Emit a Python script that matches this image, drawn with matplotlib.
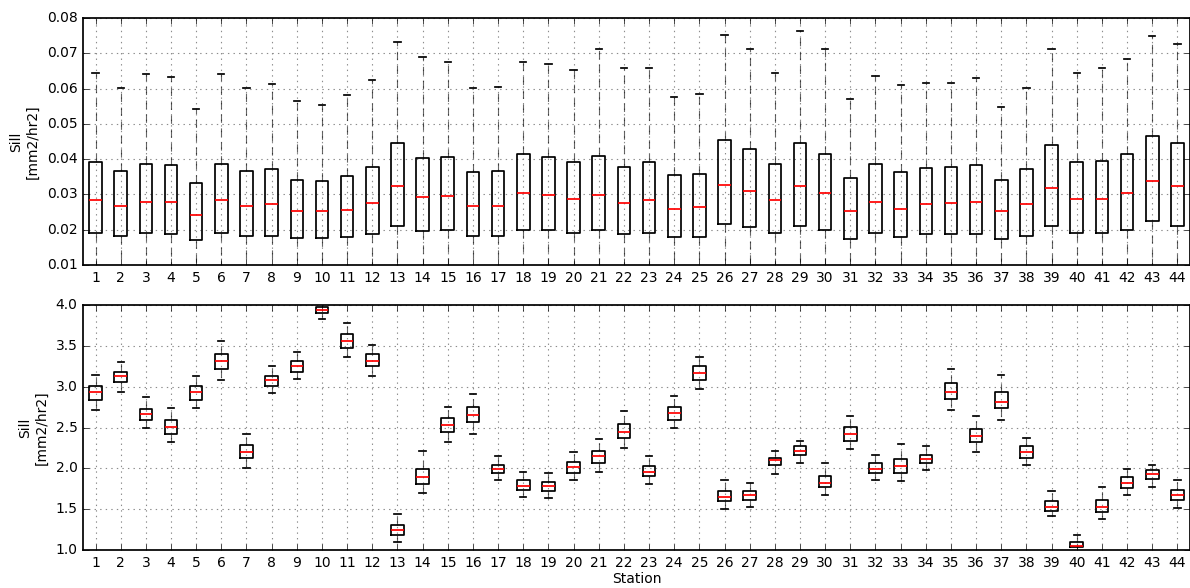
import matplotlib
matplotlib.use("Agg")
import matplotlib.pyplot as plt

stations = list(range(1, 45))

# top panel: box quartiles and upper caps (lower caps fall below the axis)
top_hi = [0.0645, 0.0601, 0.0641, 0.0633, 0.0542, 0.0641, 0.0601, 0.0613, 0.0565, 0.0553,
          0.0581, 0.0625, 0.0732, 0.0689, 0.0676, 0.0601, 0.0605, 0.0676, 0.0669, 0.0653,
          0.0712, 0.0657, 0.0657, 0.0577, 0.0585, 0.0752, 0.0712, 0.0645, 0.0764, 0.0712,
          0.0570, 0.0637, 0.0609, 0.0617, 0.0617, 0.0629, 0.0549, 0.0601, 0.0712, 0.0645,
          0.0657, 0.0685, 0.0748, 0.0725]
top_q3 = [0.0391, 0.0367, 0.0387, 0.0383, 0.0331, 0.0387, 0.0367, 0.0371, 0.0342, 0.0339,
          0.0351, 0.0378, 0.0446, 0.0402, 0.0407, 0.0363, 0.0367, 0.0414, 0.0407, 0.0391,
          0.0410, 0.0378, 0.0391, 0.0355, 0.0359, 0.0454, 0.0430, 0.0387, 0.0446, 0.0414,
          0.0347, 0.0387, 0.0363, 0.0375, 0.0378, 0.0383, 0.0342, 0.0371, 0.0439, 0.0391,
          0.0394, 0.0414, 0.0466, 0.0446]
top_med = [0.0284, 0.0267, 0.0279, 0.0279, 0.0243, 0.0284, 0.0267, 0.0272, 0.0252, 0.0252,
           0.0256, 0.0275, 0.0323, 0.0292, 0.0295, 0.0267, 0.0267, 0.0303, 0.0299, 0.0288,
           0.0299, 0.0275, 0.0283, 0.0259, 0.0263, 0.0327, 0.0311, 0.0283, 0.0323, 0.0303,
           0.0252, 0.0279, 0.0259, 0.0272, 0.0275, 0.0279, 0.0252, 0.0272, 0.0319, 0.0287,
           0.0287, 0.0303, 0.0339, 0.0323]
top_q1 = [0.0192, 0.0183, 0.0192, 0.0188, 0.0172, 0.0192, 0.0183, 0.0183, 0.0176, 0.0176,
          0.0179, 0.0188, 0.0211, 0.0196, 0.0200, 0.0183, 0.0183, 0.0200, 0.0200, 0.0192,
          0.0200, 0.0188, 0.0192, 0.0179, 0.0179, 0.0215, 0.0208, 0.0192, 0.0211, 0.0200,
          0.0175, 0.0192, 0.0179, 0.0188, 0.0188, 0.0188, 0.0175, 0.0183, 0.0211, 0.0192,
          0.0192, 0.0200, 0.0224, 0.0211]
top_lo = [0.005] * 44

# bottom panel
bot_hi = [3.143, 3.298, 2.869, 2.735, 3.127, 3.555, 2.424, 3.249, 3.420, 4.050,
          3.780, 3.506, 1.445, 2.216, 2.751, 2.906, 2.151, 1.959, 1.943, 2.200,
          2.355, 2.698, 2.151, 2.886, 3.367, 1.857, 1.824, 2.216, 2.339, 2.061,
          2.645, 2.167, 2.302, 2.269, 3.212, 2.645, 3.143, 2.371, 1.718, 1.188,
          1.771, 1.992, 2.045, 1.857]
bot_q3 = [3.004, 3.180, 2.731, 2.596, 3.004, 3.404, 2.286, 3.131, 3.318, 3.971,
          3.645, 3.404, 1.310, 1.992, 2.612, 2.751, 2.045, 1.857, 1.837, 2.078,
          2.216, 2.543, 2.029, 2.751, 3.249, 1.718, 1.718, 2.131, 2.269, 1.906,
          2.510, 2.061, 2.114, 2.167, 3.041, 2.478, 2.939, 2.269, 1.600, 1.102,
          1.616, 1.890, 1.976, 1.739]
bot_med = [2.935, 3.127, 2.665, 2.510, 2.935, 3.318, 2.200, 3.078, 3.249, 3.935,
           3.559, 3.318, 1.241, 1.890, 2.527, 2.649, 1.996, 1.788, 1.788, 2.012,
           2.147, 2.441, 1.959, 2.682, 3.163, 1.653, 1.669, 2.098, 2.216, 1.824,
           2.424, 1.996, 2.029, 2.114, 2.939, 2.392, 2.816, 2.200, 1.531, 1.049,
           1.531, 1.824, 1.927, 1.669]
bot_q1 = [2.837, 3.057, 2.596, 2.420, 2.837, 3.212, 2.131, 3.008, 3.180, 3.902,
          3.469, 3.249, 1.188, 1.804, 2.441, 2.563, 1.943, 1.735, 1.718, 1.943,
          2.061, 2.371, 1.906, 2.596, 3.078, 1.600, 1.616, 2.045, 2.167, 1.771,
          2.339, 1.943, 1.943, 2.065, 2.853, 2.322, 2.735, 2.131, 1.478, 1.033,
          1.461, 1.755, 1.873, 1.616]
bot_lo = [2.714, 2.939, 2.494, 2.318, 2.735, 3.078, 2.008, 2.922, 3.094, 3.833,
          3.367, 3.127, 1.102, 1.702, 2.318, 2.424, 1.857, 1.653, 1.633, 1.857,
          1.959, 2.253, 1.804, 2.494, 2.976, 1.498, 1.531, 1.927, 2.065, 1.669,
          2.233, 1.857, 1.841, 1.976, 2.714, 2.200, 2.596, 2.045, 1.412, 0.970,
          1.376, 1.669, 1.771, 1.514]


def make_stats(lo, q1, med, q3, hi):
    return [dict(whislo=a, q1=b, med=c, q3=d, whishi=e, fliers=[])
            for a, b, c, d, e in zip(lo, q1, med, q3, hi)]


plt.style.use("classic")
plt.rcParams["font.family"] = ["DejaVu Sans"]
plt.rcParams["font.size"] = 10

fig = plt.figure(figsize=(11.9, 5.88), dpi=100, facecolor="white")
ax_top = fig.add_axes([0.0697, 0.5493, 0.9303, 0.4201])
ax_bot = fig.add_axes([0.0697, 0.0646, 0.9303, 0.4167])

panels = [
    (ax_top, make_stats(top_lo, top_q1, top_med, top_q3, top_hi), (0.01, 0.08)),
    (ax_bot, make_stats(bot_lo, bot_q1, bot_med, bot_q3, bot_hi), (1.0, 4.0)),
]
for ax, stats, ylim in panels:
    ax.set_facecolor("white")
    ax.bxp(stats, positions=stations, widths=0.5, showfliers=False,
           boxprops=dict(color="black", linewidth=1.25),
           whiskerprops=dict(color="black", linestyle=(0, (6, 4)), linewidth=0.8, alpha=0.6),
           capprops=dict(color="black", linewidth=1.25),
           medianprops=dict(color="red", linewidth=1.25))
    ax.set_xlim(0.5, 44.5)
    ax.set_ylim(*ylim)
    ax.set_xticks(stations)
    ax.set_xticklabels([str(s) for s in stations])
    ax.grid(True, color="0.55", linestyle=":", linewidth=0.8)
    ax.set_axisbelow(True)
    ax.set_ylabel("Sill\n[mm2/hr2]")
    ax.tick_params(labelsize=10)
    for side in ("top", "bottom", "left", "right"):
        ax.spines[side].set_linewidth(1.25)

ax_top.set_yticks([0.01, 0.02, 0.03, 0.04, 0.05, 0.06, 0.07, 0.08])
ax_top.set_yticklabels(["0.01", "0.02", "0.03", "0.04", "0.05", "0.06", "0.07", "0.08"])
ax_bot.set_yticks([1.0, 1.5, 2.0, 2.5, 3.0, 3.5, 4.0])
ax_bot.set_yticklabels(["1.0", "1.5", "2.0", "2.5", "3.0", "3.5", "4.0"])
ax_bot.set_xlabel("Station", labelpad=2)

fig.savefig("out.png", dpi=100, facecolor="white")
